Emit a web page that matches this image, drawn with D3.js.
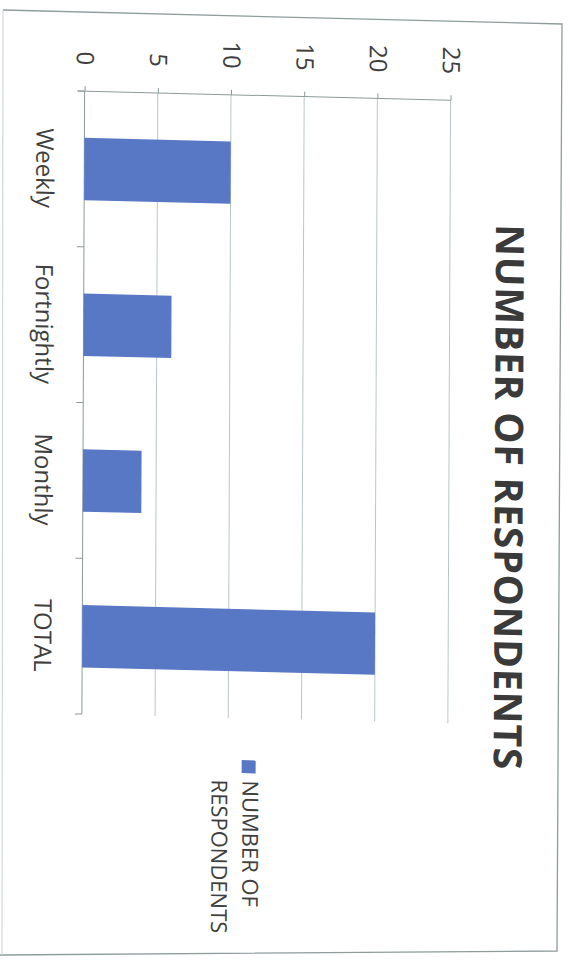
<!DOCTYPE html>
<html>
<head>
<meta charset="utf-8">
<script src="https://cdn.jsdelivr.net/npm/d3@7"></script>
<style>
  html, body { margin: 0; padding: 0; background: #fff; }
  svg { display: block; }
</style>
</head>
<body>
<script>
// Survey results: how often respondents do it, plus the total
const categories = ["Weekly", "Fortnightly", "Monthly", "TOTAL"];
const respondents = [10, 6, 4, 20];
const valueTicks = [0, 5, 10, 15, 20, 25];
const chartTitle = "NUMBER OF RESPONDENTS";
const legendLines = ["NUMBER OF", "RESPONDENTS"];

const W = 570, H = 962;
const barColor = "#5878c6";
const textColor = "#3f3f3f";
const font = "'Open Sans', 'Liberation Sans', sans-serif";

const svg = d3.select("body").append("svg")
  .attr("width", W).attr("height", H)
  .style("font-family", font);

// page frame of the printed chart
svg.append("path")
  .attr("d", "M3,10 L562,24 L557,951 L0,955")
  .attr("fill", "none")
  .attr("stroke", "#8e9c9c")
  .attr("stroke-width", 1.3);
svg.append("path")
  .attr("d", "M3,10 L2,955")
  .attr("fill", "none")
  .attr("stroke", "#c9d1d1").attr("stroke-width", 1);

// the chart is printed sideways (rotated a quarter turn) and slightly sheared
const g = svg.append("g").attr("transform", "skewX(-0.25) skewY(1.43)");

const x = d3.scaleLinear().domain([0, 25]).range([85, 451]);
const y = d3.scaleBand().domain(categories).range([89, 712])
  .paddingInner(0.6).paddingOuter(0.3);
const [y0, y1] = y.range();

// gridlines
g.append("g").selectAll("line")
  .data(valueTicks.slice(1))
  .join("line")
  .attr("x1", d => x(d)).attr("x2", d => x(d))
  .attr("y1", y0).attr("y2", y1)
  .attr("stroke", "#bcc6c9").attr("stroke-width", 1);

// value axis (runs across the top)
const vAxis = g.append("g")
  .attr("transform", `translate(0,${y0})`)
  .call(d3.axisTop(x).tickValues(valueTicks).tickSize(5).tickFormat(d3.format("d")));
vAxis.select(".domain").attr("stroke", "#8d9a9a").attr("d", `M${x(0) - 7},0H${x(25)}`);
vAxis.selectAll(".tick line").attr("stroke", "#8d9a9a");
vAxis.selectAll(".tick text")
  .attr("x", 0).attr("y", 0).attr("dy", "0.35em")
  .attr("text-anchor", "end")
  .attr("transform", "translate(0,-26) rotate(90)")
  .attr("fill", textColor)
  .style("font-size", "24px")
  .style("font-family", font);

// category axis (runs down the left side)
g.append("line")
  .attr("x1", x(0)).attr("x2", x(0))
  .attr("y1", y0).attr("y2", y1)
  .attr("stroke", "#8d9a9a").attr("stroke-width", 1);
g.append("g").selectAll("line")
  .data(d3.range(categories.length + 1))
  .join("line")
  .attr("x1", x(0) - 7).attr("x2", x(0))
  .attr("y1", i => y0 + i * y.step()).attr("y2", i => y0 + i * y.step())
  .attr("stroke", "#8d9a9a").attr("stroke-width", 1);

// bars
g.append("g").selectAll("rect")
  .data(categories.map((c, i) => ({ c, v: respondents[i] })))
  .join("rect")
  .attr("x", x(0))
  .attr("y", d => y(d.c))
  .attr("width", d => x(d.v) - x(0))
  .attr("height", y.bandwidth())
  .attr("fill", barColor);

// category labels
g.append("g").selectAll("text")
  .data(categories)
  .join("text")
  .attr("transform", d => `translate(37,${y(d) + y.bandwidth() / 2}) rotate(90)`)
  .attr("text-anchor", "middle")
  .attr("fill", textColor)
  .style("font-size", "24px")
  .text(d => d);

// title
g.append("text")
  .attr("transform", "translate(497,484) rotate(90)")
  .attr("text-anchor", "middle")
  .attr("fill", "#3a3a3a")
  .attr("textLength", 545)
  .style("font-size", "39px")
  .style("font-weight", "bold")
  .text(chartTitle);

// legend
const legend = g.append("g");
legend.append("rect")
  .attr("x", 245).attr("y", 754)
  .attr("width", 14).attr("height", 13)
  .attr("fill", barColor);
legend.selectAll("text")
  .data(legendLines)
  .join("text")
  .attr("transform", (d, i) => `translate(${246 - i * 31},774) rotate(90)`)
  .attr("fill", textColor)
  .style("font-size", "22px")
  .text(d => d);
</script>
</body>
</html>
